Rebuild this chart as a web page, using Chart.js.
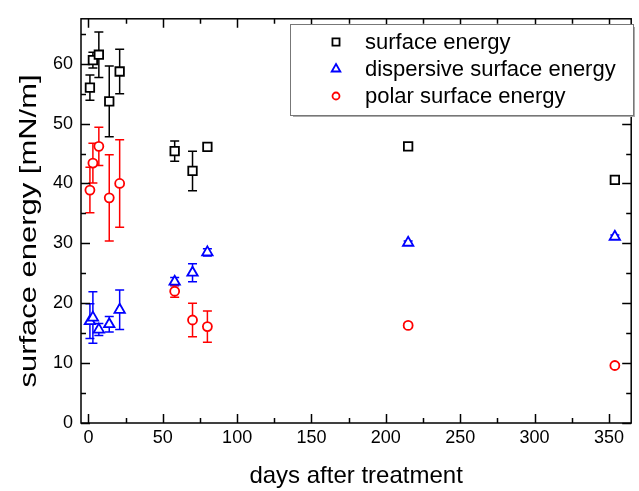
<!DOCTYPE html>
<html>
<head>
<meta charset="utf-8">
<script src="https://cdn.jsdelivr.net/npm/chart.js@4"></script>
<style>
  body { margin: 0; background: #fff; }
</style>
</head>
<body>
<canvas id="chart" width="639" height="491"></canvas>
<script>
const days = [1, 3, 7, 14, 21, 58, 70, 80, 215, 354];

const surfaceEnergy = [56.0, 60.6, 61.5, 53.7, 58.7, 45.4, 42.1, 46.1, 46.2, 40.6];
const surfaceEnergyErr = [2.1, 1.3, 3.8, 5.9, 3.7, 1.7, 3.3, 0.5, 0.4, 0.3];

const dispersiveEnergy = [17.0, 17.6, 15.6, 16.5, 18.9, 23.6, 25.1, 28.5, 30.1, 31.1];
const dispersiveEnergyErr = [2.9, 4.3, 1.0, 1.3, 3.3, 0.7, 1.5, 0.6, 0.3, 0.3];

const polarEnergy = [38.9, 43.4, 46.2, 37.6, 40.0, 22.0, 17.2, 16.1, 16.3, 9.6];
const polarEnergyErr = [3.8, 3.3, 3.2, 7.2, 7.3, 1.0, 2.8, 2.6, 0.3, 0.3];

const seriesLabels = ['surface energy', 'dispersive surface energy', 'polar surface energy'];
const xTitle = 'days after treatment';
const yTitle = 'surface energy [mN/m]';

const FONT = "'Liberation Sans', Arial, sans-serif";
Chart.defaults.font.family = FONT;
Chart.defaults.color = '#000';

function toPoints(vals) {
    return days.map((d, i) => ({ x: d, y: vals[i] }));
}

const errors = [surfaceEnergyErr, dispersiveEnergyErr, polarEnergyErr];
const colors = ['#000000', '#0000ff', '#ff0000'];
const styles = ['rect', 'triangle', 'circle'];
const radii = [6, 6, 4.5];

function drawMarker(ctx, style, cx, cy, r) {
    ctx.beginPath();
    if (style === 'rect') {
        const s = r * Math.SQRT1_2;
        ctx.rect(cx - s, cy - s, 2 * s, 2 * s);
    } else if (style === 'triangle') {
        ctx.moveTo(cx, cy - r);
        ctx.lineTo(cx + r * 0.866, cy + r * 0.5);
        ctx.lineTo(cx - r * 0.866, cy + r * 0.5);
        ctx.closePath();
    } else {
        ctx.arc(cx, cy, r, 0, Math.PI * 2);
    }
    ctx.fill();
    ctx.stroke();
}

// error bars under the markers
const errorBars = {
    id: 'errorBars',
    beforeDatasetsDraw(chart) {
        const {ctx, scales: {x, y}} = chart;
        ctx.save();
        ctx.lineWidth = 1.5;
        chart.data.datasets.forEach((ds, i) => {
            ctx.strokeStyle = colors[i];
            ds.data.forEach((p, j) => {
                const e = errors[i][j];
                const px = x.getPixelForValue(p.x);
                const top = y.getPixelForValue(p.y + e);
                const bot = y.getPixelForValue(p.y - e);
                ctx.beginPath();
                ctx.moveTo(px, top); ctx.lineTo(px, bot);
                ctx.moveTo(px - 4.5, top); ctx.lineTo(px + 4.5, top);
                ctx.moveTo(px - 4.5, bot); ctx.lineTo(px + 4.5, bot);
                ctx.stroke();
            });
        });
        ctx.restore();
    }
};

// box frame with inward ticks on all four sides, plus the stretched y title
const frameTicks = {
    id: 'frameTicks',
    afterDraw(chart) {
        const {ctx, chartArea: a, scales: {x, y}} = chart;
        ctx.save();
        ctx.strokeStyle = '#000';
        ctx.lineWidth = 1.5;
        ctx.beginPath();
        x.ticks.forEach(t => {
            const px = Math.round(x.getPixelForValue(t.value)) + 0.5;
            const len = t.value % 50 === 0 ? 9 : 5;
            ctx.moveTo(px, a.bottom); ctx.lineTo(px, a.bottom - len);
            ctx.moveTo(px, a.top); ctx.lineTo(px, a.top + len);
        });
        y.ticks.forEach(t => {
            const py = Math.round(y.getPixelForValue(t.value)) + 0.5;
            const len = t.value % 10 === 0 ? 9 : 5;
            ctx.moveTo(a.left, py); ctx.lineTo(a.left + len, py);
            ctx.moveTo(a.right, py); ctx.lineTo(a.right - len, py);
        });
        ctx.stroke();
        ctx.strokeRect(a.left, a.top, a.right - a.left, a.bottom - a.top);

        ctx.translate(29, 231);
        ctx.rotate(-Math.PI / 2);
        ctx.scale(1.29, 1);
        ctx.font = '24px ' + FONT;
        ctx.fillStyle = '#000';
        ctx.textAlign = 'center';
        ctx.textBaseline = 'middle';
        ctx.fillText(yTitle, 0, 0);
        ctx.restore();
    }
};

// legend box in the upper right
const boxLegend = {
    id: 'boxLegend',
    afterDraw(chart) {
        const ctx = chart.ctx;
        const left = 290, top = 24, w = 343, h = 91;
        ctx.save();
        ctx.fillStyle = '#fff';
        ctx.fillRect(left, top, w, h);
        ctx.strokeStyle = '#aaa';
        ctx.lineWidth = 2;
        ctx.beginPath();
        ctx.moveTo(left + w + 1, top + 3); ctx.lineTo(left + w + 1, top + h + 1); ctx.lineTo(left + 3, top + h + 1);
        ctx.stroke();
        ctx.strokeStyle = '#777';
        ctx.lineWidth = 1;
        ctx.strokeRect(left + 0.5, top + 0.5, w, h);
        ctx.font = '22px ' + FONT;
        ctx.textBaseline = 'middle';
        seriesLabels.forEach((lab, i) => {
            const cy = top + 18 + i * 27;
            ctx.strokeStyle = colors[i];
            ctx.fillStyle = '#fff';
            ctx.lineWidth = 1.8;
            drawMarker(ctx, styles[i], left + 46, cy, radii[i] - 1);
            ctx.fillStyle = '#000';
            ctx.fillText(lab, left + 75, cy + 1);
        });
        ctx.restore();
    }
};

const ctx = document.getElementById('chart').getContext('2d');

const chart = new Chart(ctx, {
    type: 'scatter',
    data: {
        datasets: [surfaceEnergy, dispersiveEnergy, polarEnergy].map((vals, i) => ({
            label: seriesLabels[i],
            data: toPoints(vals),
            pointStyle: styles[i],
            pointRadius: radii[i],
            pointBorderWidth: 1.8,
            borderColor: colors[i],
            backgroundColor: '#fff'
        }))
    },
    options: {
        responsive: false,
        animation: false,
        layout: { padding: { top: 14, right: 1, left: 0, bottom: 0 } },
        plugins: {
            legend: { display: false },
            tooltip: { enabled: false }
        },
        scales: {
            x: {
                type: 'linear',
                min: -5,
                max: 365,
                grid: { display: false, drawTicks: false },
                border: { display: false },
                ticks: {
                    stepSize: 25,
                    includeBounds: false,
                    autoSkip: false,
                    maxRotation: 0,
                    padding: 4,
                    font: { size: 18 },
                    callback: v => (v % 50 === 0 ? v : '')
                },
                title: {
                    display: true,
                    text: xTitle,
                    font: { size: 24 },
                    padding: { top: 0, bottom: 0 }
                },
                afterFit: s => { s.height = 68; }
            },
            y: {
                min: 0,
                max: 67.5,
                grid: { display: false, drawTicks: false },
                border: { display: false },
                ticks: {
                    stepSize: 5,
                    includeBounds: false,
                    autoSkip: false,
                    padding: 8,
                    font: { size: 18 },
                    callback: v => (v % 10 === 0 ? v : '')
                },
                afterFit: s => { s.width = 81; }
            }
        }
    },
    plugins: [errorBars, frameTicks, boxLegend]
});
</script>
</body>
</html>
